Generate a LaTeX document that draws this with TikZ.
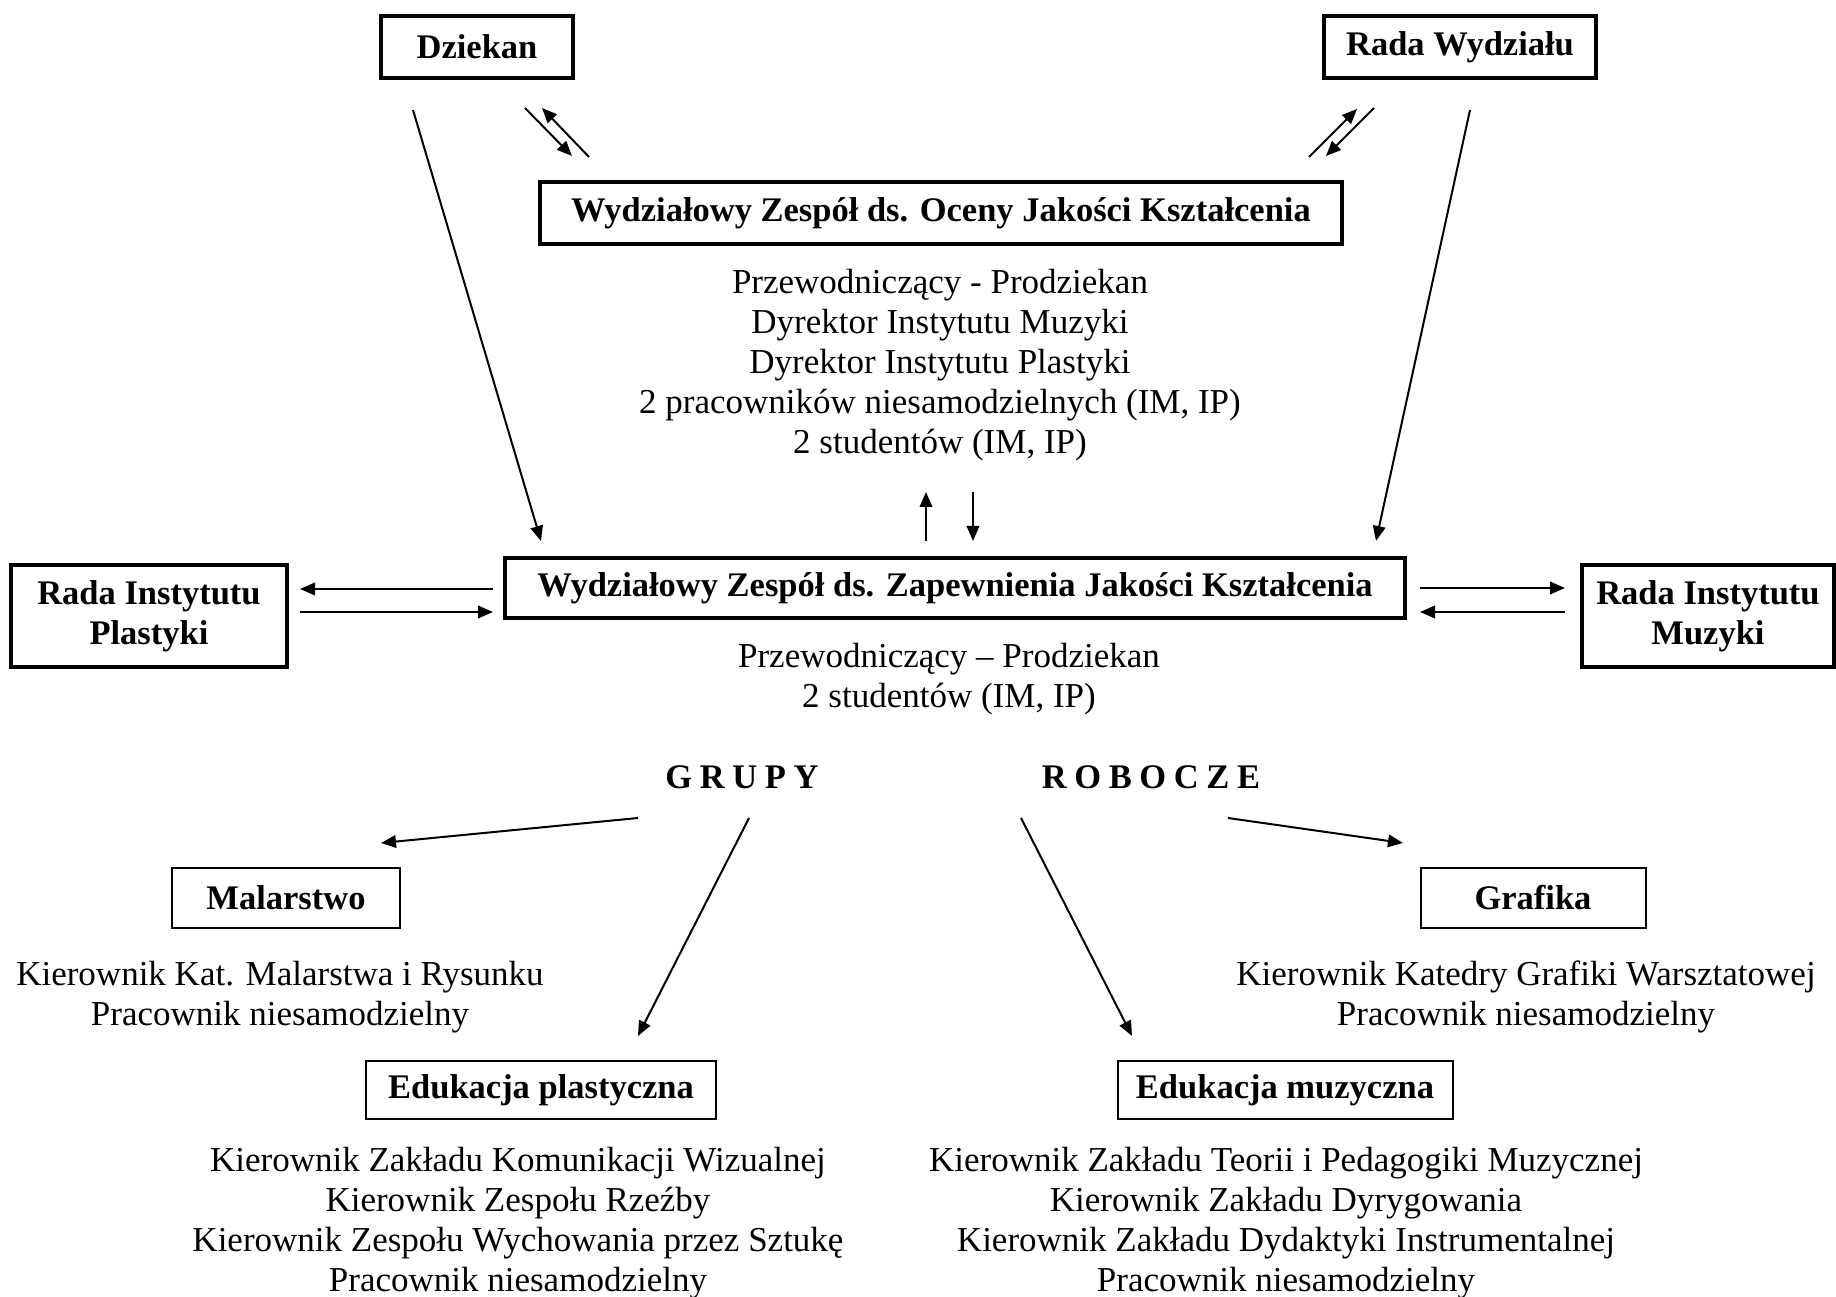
\documentclass[tikz,border=0pt]{standalone}
\usepackage{fontspec}
\setmainfont{Liberation Serif}
\usetikzlibrary{arrows.meta}

\begin{document}
\begin{tikzpicture}
  [x=0.4pt,y=-0.4pt,
   every node/.style={align=center,inner sep=0pt,font=\fontsize{14}{16}\selectfont},
   box/.style={draw,line width=1.6pt,font=\fontsize{13.8}{16}\selectfont\bfseries},
   grbox/.style={draw,line width=0.8pt,minimum height=24pt,font=\fontsize{13.8}{16}\selectfont\bfseries}]
  \useasboundingbox (0,0) rectangle (1836,1297);
  % gora
  \node[box,minimum width=77pt,minimum height=25pt] (dziekan) at (477,47) {Dziekan};
  \node[box,minimum width=109pt,minimum height=25pt] (rada) at (1460,47) {Rada Wydziału};
  \node[box,minimum width=321pt,minimum height=25pt] (ocena) at (941,213)
    {Wydziałowy Zespół ds. Oceny Jakości Kształcenia};
  \node (ocenaskl) at (940,365) {Przewodniczący - Prodziekan\\ Dyrektor Instytutu Muzyki\\
    Dyrektor Instytutu Plastyki\\ 2 pracowników niesamodzielnych (IM, IP)\\ 2 studentów (IM, IP)};
  % srodek
  \node[box,minimum width=360pt,minimum height=24pt] (zesp) at (955,588)
    {Wydziałowy Zespół ds. Zapewnienia Jakości Kształcenia};
  \node[box,minimum width=110pt,minimum height=41pt] (riP) at (149,616) {Rada Instytutu\\ Plastyki};
  \node[box,minimum width=101pt,minimum height=41pt] (riM) at (1708,616) {Rada Instytutu\\ Muzyki};
  \node (zespskl) at (949,679) {Przewodniczący – Prodziekan\\ 2 studentów (IM, IP)};
  \node[font=\fontsize{13.8}{16}\selectfont\bfseries] (grupy) at (742,777)
    {G\hspace{.22em}R\hspace{.22em}U\hspace{.22em}P\hspace{.22em}Y};
  \node[font=\fontsize{13.8}{16}\selectfont\bfseries] (robocze) at (1151,777)
    {R\hspace{.22em}O\hspace{.22em}B\hspace{.22em}O\hspace{.22em}C\hspace{.22em}Z\hspace{.22em}E};
  % grupy robocze
  \node[grbox,minimum width=91pt] (malar) at (286,898) {Malarstwo};
  \node (malarskl) at (280,997) {Kierownik Kat. Malarstwa i Rysunku\\ Pracownik niesamodzielny};
  \node[grbox,minimum width=90pt] (grafika) at (1533,898) {Grafika};
  \node (grafskl) at (1526,997) {Kierownik Katedry Grafiki Warsztatowej\\ Pracownik niesamodzielny};
  \node[grbox,minimum width=140pt,minimum height=23pt] (edpl) at (541,1090) {Edukacja plastyczna};
  \node (edplskl) at (518,1223) {Kierownik Zakładu Komunikacji Wizualnej\\ Kierownik Zespołu Rzeźby\\
    Kierownik Zespołu Wychowania przez Sztukę\\ Pracownik niesamodzielny};
  \node[grbox,minimum width=134pt,minimum height=23pt] (edmu) at (1285,1090) {Edukacja muzyczna};
  \node (edmuskl) at (1286,1223) {Kierownik Zakładu Teorii i Pedagogiki Muzycznej\\ Kierownik Zakładu Dyrygowania\\
    Kierownik Zakładu Dydaktyki Instrumentalnej\\ Pracownik niesamodzielny};
  % punkty strzalek
  \coordinate (dzA1) at (525,108);  \coordinate (dzA2) at (572,156);
  \coordinate (dzB1) at (589,157);  \coordinate (dzB2) at (542,108);
  \coordinate (rwA1) at (1309,157); \coordinate (rwA2) at (1357,109);
  \coordinate (rwB1) at (1374,108); \coordinate (rwB2) at (1326,156);
  \coordinate (dzZ1) at (413,110);  \coordinate (dzZ2) at (541,541);
  \coordinate (rwZ1) at (1470,110); \coordinate (rwZ2) at (1376,541);
  \coordinate (upA) at (926,541);   \coordinate (upB) at (926,492);
  \coordinate (dnA) at (973,492);   \coordinate (dnB) at (973,541);
  \coordinate (lfA) at (493,589);   \coordinate (lfB) at (300,589);
  \coordinate (lfC) at (300,612);   \coordinate (lfD) at (493,612);
  \coordinate (rtA) at (1420,588);  \coordinate (rtB) at (1565,588);
  \coordinate (rtC) at (1565,612);  \coordinate (rtD) at (1420,612);
  \coordinate (gr1) at (638,818);   \coordinate (ma1) at (381,843);
  \coordinate (gr2) at (749,818);   \coordinate (ep1) at (638,1036);
  \coordinate (ro1) at (1021,818);  \coordinate (em1) at (1132,1036);
  \coordinate (ro2) at (1228,818);  \coordinate (gf1) at (1403,843);
  \begin{scope}[line width=0.8pt, -{Triangle[length=6pt,width=5pt]}]
  \foreach \from/\to in {dzA1/dzA2,dzB1/dzB2,rwA1/rwA2,rwB1/rwB2,dzZ1/dzZ2,rwZ1/rwZ2,
      upA/upB,dnA/dnB,lfA/lfB,lfC/lfD,rtA/rtB,rtC/rtD,gr1/ma1,gr2/ep1,ro1/em1,ro2/gf1}
     \draw (\from) -- (\to);
  \end{scope}
\end{tikzpicture}
\end{document}
